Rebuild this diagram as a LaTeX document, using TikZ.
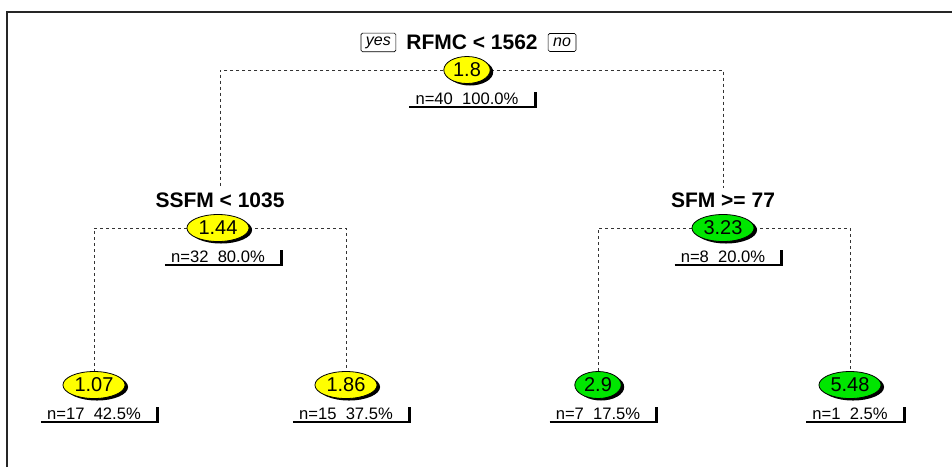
\documentclass[tikz,border=0pt]{standalone}
\usepackage{fontspec}
\setmainfont{Liberation Sans}
\usetikzlibrary{positioning,shapes.geometric,shadows,backgrounds}
\definecolor{leafyellow}{RGB}{255,255,0}
\definecolor{leafgreen}{RGB}{0,230,0}
\begin{document}
\begin{tikzpicture}[x=1pt,y=1pt,
            fit node/.style={ellipse,draw,line width=0.8pt,inner xsep=2.5pt,inner ysep=0pt,
                minimum height=27pt,font=\fontsize{20}{23}\selectfont,
                drop shadow={shadow xshift=3pt,shadow yshift=-2pt,opacity=1,fill=black}},
            split node/.style={inner sep=0pt,font=\fontsize{21}{24}\selectfont\bfseries},
            count node/.style={inner xsep=6pt,inner ysep=2pt,font=\fontsize{16.6}{19}\selectfont},
            answer node/.style={draw,line width=0.6pt,rounded corners=1.5pt,inner xsep=5pt,
                minimum height=18pt,font=\fontsize{16}{19}\selectfont\itshape},
            branch/.style={dashed,dash pattern=on 3pt off 3pt,line width=0.8pt,black!80}]

        % frame
        \useasboundingbox (0,0) rectangle (952,-467);
        \draw[line width=2pt,black!85] (7,-467) -- (7,-11.5) -- (952,-11.5);

        % fitted values
        \node[fit node,fill=leafyellow] (n1) at (467,-70) {1.8};
        \node[fit node,fill=leafyellow] (n2) at (218,-228) {1.44};
        \node[fit node,fill=leafgreen] (n3) at (723,-228) {3.23};
        \node[fit node,fill=leafyellow] (n4) at (94,-385) {1.07};
        \node[fit node,fill=leafyellow] (n5) at (346,-385) {1.86};
        \node[fit node,fill=leafgreen] (n6) at (598,-385) {2.9};
        \node[fit node,fill=leafgreen] (n7) at (850,-385) {5.48};

        % split labels
        \node[split node,above=6pt of n1,xshift=5pt] (t1) {RFMC < 1562};
        \node[split node,above=6pt of n2,xshift=2pt] (t2) {SSFM < 1035};
        \node[split node,above=6pt of n3] (t3) {SFM >= 77};
        \node[answer node,left=10pt of t1] (yes) {yes};
        \node[answer node,right=10pt of t1] (no) {no};

        % counts
        \node[count node,below=7pt of n1] (c1) {n=40\ \ 100.0\%};
        \node[count node,below=7pt of n2] (c2) {n=32\ \ 80.0\%};
        \node[count node,below=7pt of n3] (c3) {n=8\ \ 20.0\%};
        \node[count node,below=7pt of n4] (c4) {n=17\ \ 42.5\%};
        \node[count node,below=7pt of n5] (c5) {n=15\ \ 37.5\%};
        \node[count node,below=7pt of n6] (c6) {n=7\ \ 17.5\%};
        \node[count node,below=7pt of n7] (c7) {n=1\ \ 2.5\%};
        \foreach \c in {c1,c2,c3,c4,c5,c6,c7} {
            \draw[line width=1.3pt] (\c.south west) -- ([xshift=12pt]\c.south east);
            \draw[line width=3pt] ([xshift=10.5pt]\c.south east) -- ([xshift=10.5pt,yshift=-1pt]\c.north east);
        }

        % branches
        \begin{scope}[on background layer]
        \draw[branch,shorten >=5pt] (n1) -| (t2.north);
        \draw[branch,shorten >=5pt] (n1) -| (t3.north);
        \draw[branch] (n2) -| (n4.north);
        \draw[branch] (n2) -| (n5.north);
        \draw[branch] (n3) -| (n6.north);
        \draw[branch] (n3) -| (n7.north);
        \end{scope}

        \end{tikzpicture}
\end{document}
